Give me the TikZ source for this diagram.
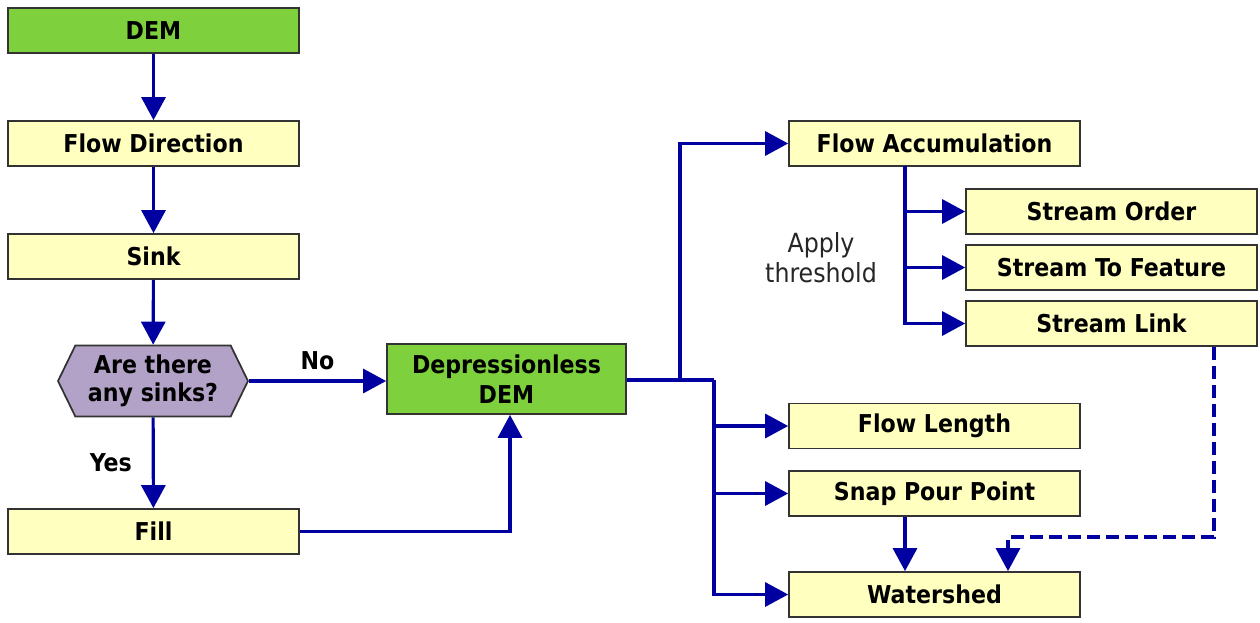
\documentclass[tikz,border=0pt]{standalone}
\usepackage{fontspec}
\setmainfont{DejaVu Sans Condensed}
\usetikzlibrary{arrows.meta, shapes.symbols}

\definecolor{demgreen}{RGB}{126,208,60}
\definecolor{toolyellow}{RGB}{255,255,192}
\definecolor{askpurple}{RGB}{178,162,199}
\definecolor{flowblue}{RGB}{0,0,160}

\tikzset{
  tool/.style={draw=black!80, line width=1pt, fill=toolyellow, minimum width=5.82cm,
    minimum height=0.9cm, inner sep=0pt, font=\fontsize{14}{17}\selectfont\bfseries},
  data/.style={tool, fill=demgreen},
  ask/.style={signal, signal to=west and east, signal pointer angle=128, draw=black!80,
    line width=1pt, fill=askpurple, minimum width=3.8cm, minimum height=1.42cm,
    inner sep=0pt, align=center, font=\fontsize{14}{16}\selectfont\bfseries},
  link/.style={draw=flowblue, line width=1.8pt},
  flow/.style={link, -{Triangle[length=0.46cm, width=0.48cm]}},
  tag/.style={font=\fontsize{14}{16}\selectfont\bfseries, text=black},
}

\begin{document}
\begin{tikzpicture}[x=0.02cm, y=-0.02cm]
\useasboundingbox (0,0) rectangle (1260,622);

% left column
\node[data] (dem) at (153.5,30.5) {DEM};
\node[tool] (flowdir) at (153.5,143.5) {Flow Direction};
\node[tool] (sink) at (153.5,256.5) {Sink};
\node[ask] (anysinks) at (153,381) {Are there\\any sinks?};
\node[tool] (fill) at (153.5,531.5) {Fill};
\node[data, minimum width=4.78cm, minimum height=1.4cm, align=center] (nodep) at (506.5,379) {Depressionless\\DEM};

% right side
\node[tool] (flowacc) at (934.5,143.5) {Flow Accumulation};
\node[tool] (order) at (1111.5,211.5) {Stream Order};
\node[tool] (tofeat) at (1111.5,267.5) {Stream To Feature};
\node[tool] (slink) at (1111.5,323.5) {Stream Link};
\node[tool] (flowlen) at (934.5,426) {Flow Length};
\node[tool] (snap) at (934.5,493.5) {Snap Pour Point};
\node[tool] (shed) at (934.5,594.5) {Watershed};
\node[align=center, text=black!85, font=\fontsize{15}{17}\selectfont] (thresh) at (821,258) {Apply\\threshold};

\coordinate (fork) at (680,380);
\coordinate (trunk) at (714,380);
\coordinate (rise) at (510,380);
\coordinate (tap) at (905,166);
\coordinate (bend) at (1214,537);
\coordinate (drop) at (1008,537);

\draw[flow] (dem) -- (flowdir);
\draw[flow] (flowdir) -- (sink);
\draw[flow] (sink) -- (anysinks);
\draw[flow] (anysinks) -- node[tag, left=8pt] {Yes} (fill);
\draw[flow] (anysinks.east) -- node[tag, above=2pt] {No} (anysinks.east -| nodep.west);
\draw[flow] (fill.east) -| (nodep.south -| rise);

\draw[flow] (nodep.east |- fork) -- (fork) |- (flowacc.west);
\draw[link] (fork) -- (trunk);
\draw[flow] (trunk) |- (flowlen.west);
\draw[flow] (trunk) |- (snap.west);
\draw[flow] (trunk) |- (shed.west);

\draw[flow] (tap) |- (order.west);
\draw[flow] (tap) |- (tofeat.west);
\draw[flow] (tap) |- (slink.west);

\draw[flow] (snap.south -| tap) -- (shed.north -| tap);
\draw[flow, dash pattern=on 0.26cm off 0.12cm] (slink.south -| bend) -- (bend) -- (drop) -- (shed.north -| drop);
\end{tikzpicture}
\end{document}
